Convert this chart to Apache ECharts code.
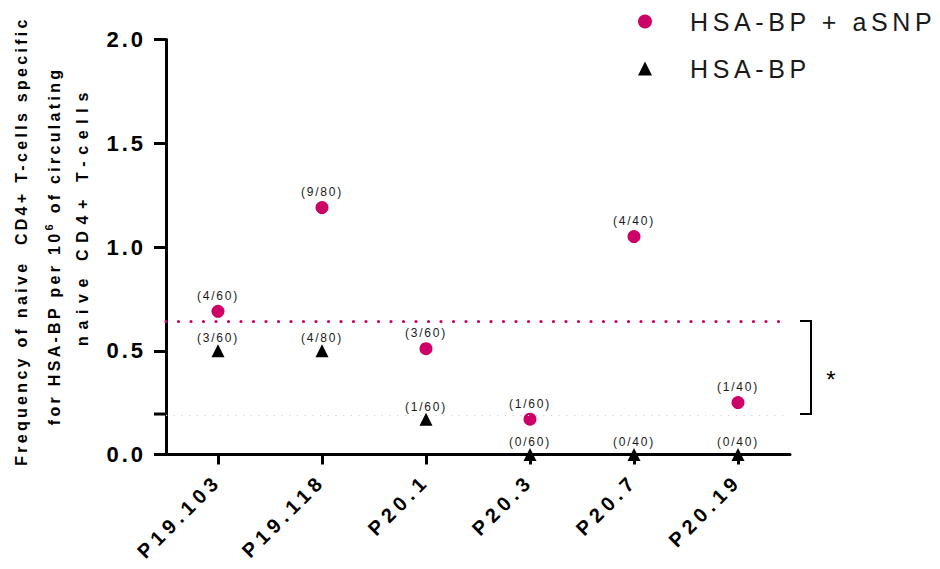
<!DOCTYPE html>
<html>
<head>
<meta charset="utf-8">
<script src="https://cdn.jsdelivr.net/npm/echarts@6/dist/echarts.min.js"></script>
<style>
  html, body { margin: 0; padding: 0; background: #ffffff; }
  #chart { width: 940px; height: 569px; }
</style>
</head>
<body>
<div id="chart"></div>
<script>
// Donors on the x axis
const categories = ['P19.103', 'P19.118', 'P20.1', 'P20.3', 'P20.7', 'P20.19'];

// HSA-BP + aSNP stimulation: frequency and positive wells / total wells
const plusValues = [0.69, 1.19, 0.51, 0.17, 1.05, 0.25];
const plusCounts = ['(4/60)', '(9/80)', '(3/60)', '(1/60)', '(4/40)', '(1/40)'];

// HSA-BP stimulation alone
const bpValues = [0.5, 0.5, 0.17, 0, 0, 0];
const bpCounts = ['(3/60)', '(4/80)', '(1/60)', '(0/60)', '(0/40)', '(0/40)'];

// Value axis range
const yMin = 0, yMax = 2, yStep = 0.5;

// Axis title lines; the middle line carries a superscript exponent
const titleLine1 = 'Frequency of naive  CD4+ T-cells specific';
const titleLine2a = 'for HSA-BP per 10';
const titleLine2exp = '6';
const titleLine2b = 'of circulating';
const titleLine3 = 'naive CD4+ T-cells';

const seriesNames = ['HSA-BP + aSNP', 'HSA-BP'];
const significance = '*';

const PINK = '#cc0066';
const FONT = "'Liberation Sans', Arial, Helvetica, sans-serif";
const GRID = { left: 166, top: 39.5, width: 624, height: 415 };

// letter spacing per text role
const SP = { title: 3.3, title3: 6.6, legend: 4.6, xLabel: 5, yLabel: 3, count: 1.8 };

const mean = arr => arr.reduce((a, b) => a + b, 0) / arr.length;

const chart = echarts.init(document.getElementById('chart'), null, { renderer: 'svg' });

chart.setOption({
  animation: false,
  backgroundColor: '#ffffff',
  textStyle: { fontFamily: FONT },
  grid: Object.assign({ containLabel: false, outerBoundsMode: 'none' }, GRID),
  legend: {
    orient: 'vertical',
    left: 633,
    top: 4,
    itemWidth: 14,
    itemHeight: 14,
    itemGap: 22,
    selectedMode: false,
    data: [
      { name: seriesNames[0], icon: 'circle' },
      { name: seriesNames[1], icon: 'triangle' }
    ],
    textStyle: {
      fontFamily: FONT,
      fontSize: 25,
      color: '#1a1a1a',
      lineHeight: 24,
      padding: [0, 0, 0, 33]
    }
  },
  xAxis: {
    type: 'category',
    data: categories,
    boundaryGap: true,
    axisLine: { show: true, lineStyle: { color: '#000', width: 3 } },
    axisTick: { show: true, alignWithLabel: true, length: 10, lineStyle: { color: '#000', width: 3 } },
    axisLabel: {
      rotate: 45,
      margin: 23,
      color: '#000',
      fontFamily: FONT,
      fontSize: 20,
      fontWeight: 'bold',
      interval: 0
    },
    splitLine: { show: false }
  },
  yAxis: {
    type: 'value',
    min: yMin,
    max: yMax,
    interval: yStep,
    axisLine: { show: true, lineStyle: { color: '#000', width: 3 } },
    axisTick: { show: true, length: 12, lineStyle: { color: '#000', width: 3 } },
    axisLabel: {
      margin: 20,
      color: '#000',
      fontFamily: FONT,
      fontSize: 22,
      fontWeight: 'bold',
      formatter: v => v.toFixed(1)
    },
    splitLine: { show: false }
  },
  series: [
    {
      name: seriesNames[1],
      type: 'scatter',
      data: bpValues,
      symbol: 'triangle',
      symbolSize: 13,
      clip: false,
      itemStyle: { color: '#000', opacity: 1 },
      label: {
        show: true,
        position: 'top',
        distance: 0,
        fontFamily: FONT,
        fontSize: 12,
        color: '#1a1a1a',
        formatter: p => bpCounts[p.dataIndex]
      },
      markLine: {
        silent: true,
        symbol: 'none',
        label: { show: false },
        lineStyle: { color: '#d4d4d4', width: 1.2, type: [1.2, 6.5] },
        data: [{ type: 'average' }]
      },
      z: 3
    },
    {
      name: seriesNames[0],
      type: 'scatter',
      data: plusValues,
      symbol: 'circle',
      symbolSize: 13,
      clip: false,
      itemStyle: { color: PINK, opacity: 1 },
      label: {
        show: true,
        position: 'top',
        distance: 3,
        fontFamily: FONT,
        fontSize: 12,
        color: '#1a1a1a',
        formatter: p => plusCounts[p.dataIndex]
      },
      markLine: {
        silent: true,
        symbol: 'none',
        label: { show: false },
        lineStyle: { color: PINK, width: 3.2, type: [0.01, 12.49], cap: 'round', dashOffset: 0.2 },
        data: [{ type: 'average' }]
      },
      z: 4
    }
  ]
});

// Bracket between the two group means, the extra axis tick and the title
const yPlus = chart.convertToPixel({ yAxisIndex: 0 }, mean(plusValues));
const yBp = chart.convertToPixel({ yAxisIndex: 0 }, mean(bpValues));
const xLast = chart.convertToPixel({ xAxisIndex: 0 }, categories[categories.length - 1]);
const armX0 = xLast + 62, armX1 = xLast + 73;

// width of a string as drawn with tracking
const measureCtx = document.createElement('canvas').getContext('2d');
function trackedWidth(text, size, spacing) {
  measureCtx.font = 'bold ' + size + 'px ' + FONT;
  return measureCtx.measureText(text).width + spacing * text.length;
}

const titleStyle = (text, size) => ({
  text: text,
  fontFamily: FONT,
  fontSize: size || 16,
  fontWeight: 'bold',
  fill: '#000',
  align: 'center',
  verticalAlign: 'middle'
});

// middle title line: pieces laid out bottom-to-top along the rotated baseline
const line2X = 54, line2Center = 246, expSize = 11;
const wA = trackedWidth(titleLine2a, 16, SP.title);
const wE = trackedWidth(titleLine2exp, expSize, SP.title);
const wGap = trackedWidth(' ', 16, SP.title);
const wB = trackedWidth(titleLine2b, 16, SP.title);
const line2Start = line2Center + (wA + wE + wGap + wB) / 2;

chart.setOption({
  graphic: [
    {
      type: 'line',
      silent: true,
      shape: { x1: GRID.left - 12, y1: yBp, x2: GRID.left, y2: yBp },
      style: { stroke: '#000', lineWidth: 3 }
    },
    {
      type: 'polyline',
      silent: true,
      shape: { points: [[armX0, yPlus], [armX1, yPlus], [armX1, yBp], [armX0, yBp]] },
      style: { stroke: '#000', lineWidth: 2, fill: null }
    },
    {
      type: 'text',
      silent: true,
      x: armX1 + 20,
      y: (yPlus + yBp) / 2 + 12,
      style: { text: significance, fontFamily: FONT, fontSize: 24, fill: '#000', align: 'center', verticalAlign: 'middle' }
    },
    { type: 'text', silent: true, x: 21, y: 241, rotation: Math.PI / 2, style: titleStyle(titleLine1) },
    { type: 'text', silent: true, x: line2X, y: line2Start - wA / 2, rotation: Math.PI / 2, style: titleStyle(titleLine2a) },
    { type: 'text', silent: true, x: line2X - 5, y: line2Start - wA - wE / 2, rotation: Math.PI / 2, style: titleStyle(titleLine2exp, expSize) },
    { type: 'text', silent: true, x: line2X, y: line2Start - wA - wE - wGap - wB / 2, rotation: Math.PI / 2, style: titleStyle(titleLine2b) },
    { type: 'text', silent: true, x: 82, y: 216, rotation: Math.PI / 2, style: titleStyle(titleLine3) }
  ]
});

// Tracking (letter spacing) for the different text roles
function applySpacing() {
  const nodes = document.querySelectorAll('#chart svg text');
  nodes.forEach(el => {
    const t = el.textContent;
    let s = null;
    if (t === titleLine1 || t === titleLine2a || t === titleLine2b || t === titleLine2exp) s = SP.title;
    else if (t === titleLine3) s = SP.title3;
    else if (seriesNames.indexOf(t) >= 0) s = SP.legend;
    else if (categories.indexOf(t) >= 0) s = SP.xLabel;
    else if (/^\d\.\d$/.test(t)) s = SP.yLabel;
    else if (/^\(\d+\/\d+\)$/.test(t)) s = SP.count;
    if (s !== null) el.setAttribute('letter-spacing', s + 'px');
  });
}
applySpacing();
chart.on('finished', applySpacing);
</script>
</body>
</html>
